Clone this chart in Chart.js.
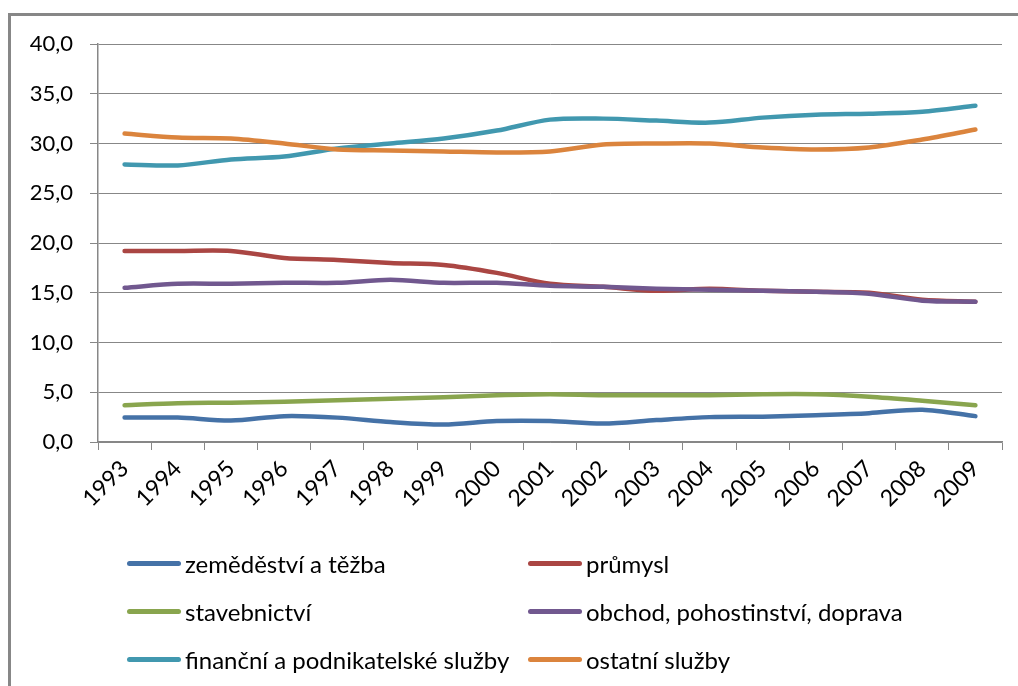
<!DOCTYPE html>
<html>
<head>
<meta charset="utf-8">
<script src="https://cdn.jsdelivr.net/npm/chart.js@4/dist/chart.umd.min.js"></script>
<style>
  html, body { margin: 0; padding: 0; background: #fff; }
  body { width: 1018px; height: 686px; position: relative; overflow: hidden; font-family: Lato, "Liberation Sans", sans-serif; }
  #frame { position: absolute; left: 8px; top: 13px; width: 1100px; height: 800px; border-left: 3px solid #878787; border-top: 3px solid #878787; }
  #wrap { position: absolute; left: 0; top: 0; width: 1018px; height: 686px; }
  #legend { position: absolute; left: 0; top: 0; width: 1018px; height: 686px; pointer-events: none; }
  .item { position: absolute; height: 30px; display: flex; align-items: center; white-space: nowrap; font-size: 24px; color: #000; }
  .mark { width: 54px; height: 5px; border-radius: 3px; margin-right: 4px; }
</style>
</head>
<body>
<div id="frame"></div>
<div id="wrap"><canvas id="c"></canvas></div>
<div id="legend"></div>
<script>
const years = ['1993','1994','1995','1996','1997','1998','1999','2000','2001','2002','2003','2004','2005','2006','2007','2008','2009'];
const yTickLabels = ['0,0','5,0','10,0','15,0','20,0','25,0','30,0','35,0','40,0'];
const seriesNames = ['zeměděství a těžba','průmysl','stavebnictví','obchod, pohostinství, doprava','finanční a podnikatelské služby','ostatní služby'];
const zemedelstvi = [2.45,2.45,2.15,2.6,2.45,2.0,1.75,2.1,2.1,1.85,2.2,2.5,2.55,2.7,2.9,3.25,2.6];
const prumysl = [19.2,19.2,19.2,18.5,18.3,18.0,17.8,17.0,15.9,15.6,15.2,15.4,15.2,15.1,15.0,14.3,14.1];
const stavebnictvi = [3.7,3.9,3.95,4.05,4.2,4.35,4.5,4.7,4.8,4.7,4.7,4.7,4.8,4.8,4.55,4.15,3.7];
const obchod = [15.5,15.9,15.9,16.0,16.0,16.3,16.0,16.0,15.7,15.6,15.4,15.3,15.2,15.1,14.9,14.2,14.1];
const financni = [27.9,27.8,28.4,28.7,29.5,30.0,30.5,31.3,32.4,32.5,32.3,32.1,32.6,32.9,33.0,33.2,33.8];
const ostatni = [31.0,30.6,30.5,30.0,29.4,29.3,29.2,29.1,29.2,29.9,30.0,30.0,29.6,29.4,29.6,30.4,31.4];

const colors = ['#4572A7','#AA4643','#89A54E','#71588F','#4198AF','#DB843D'];
const values = [zemedelstvi, prumysl, stavebnictvi, obchod, financni, ostatni];

const datasets = values.map((v, i) => ({
  label: seriesNames[i],
  data: v,
  borderColor: colors[i],
  backgroundColor: colors[i],
  borderWidth: 4.5,
  pointRadius: 0,
  pointHoverRadius: 0,
  tension: 0.3,
  borderCapStyle: 'round',
  borderJoinStyle: 'round',
  fill: false,
  order: values.length - i
}));

const gridColor = '#878787';
const yFont = { family: 'Lato, "Liberation Sans", sans-serif', size: 22 };
const xFont = { family: 'Lato, "Liberation Sans", sans-serif', size: 23 };

const chart = new Chart(document.getElementById('c'), {
  type: 'line',
  data: { labels: years, datasets },
  options: {
    responsive: true,
    maintainAspectRatio: false,
    animation: false,
    layout: { padding: { top: 44, right: 16, left: 0, bottom: 0 } },
    plugins: { legend: { display: false }, tooltip: { enabled: false } },
    scales: {
      x: {
        offset: true,
        grid: { offset: true, drawOnChartArea: false, drawTicks: true, tickLength: 8, color: gridColor, lineWidth: 1 },
        border: { color: gridColor, width: 1.5 },
        ticks: { color: '#000', font: xFont, minRotation: 45, maxRotation: 45, autoSkip: false, padding: 5 },
        afterFit: s => { s.height = 244; }
      },
      y: {
        min: 0, max: 40,
        grid: { color: gridColor, lineWidth: 1, tickLength: 8 },
        border: { color: gridColor, width: 1.5 },
        ticks: { stepSize: 5, color: '#000', font: yFont, padding: 17,
          callback: (v, i) => yTickLabels[i] },
        afterFit: s => { s.width = 98; }
      }
    }
  }
});

const legend = document.getElementById('legend');
const pos = [[127,548],[528,548],[127,596],[528,596],[127,644],[528,644]];
chart.data.datasets.forEach((d, i) => {
  const el = document.createElement('div');
  el.className = 'item';
  el.style.left = pos[i][0] + 'px';
  el.style.top = pos[i][1] + 'px';
  const m = document.createElement('span');
  m.className = 'mark';
  m.style.background = d.borderColor;
  const t = document.createElement('span');
  t.textContent = d.label;
  el.appendChild(m); el.appendChild(t);
  legend.appendChild(el);
});
</script>
</body>
</html>
